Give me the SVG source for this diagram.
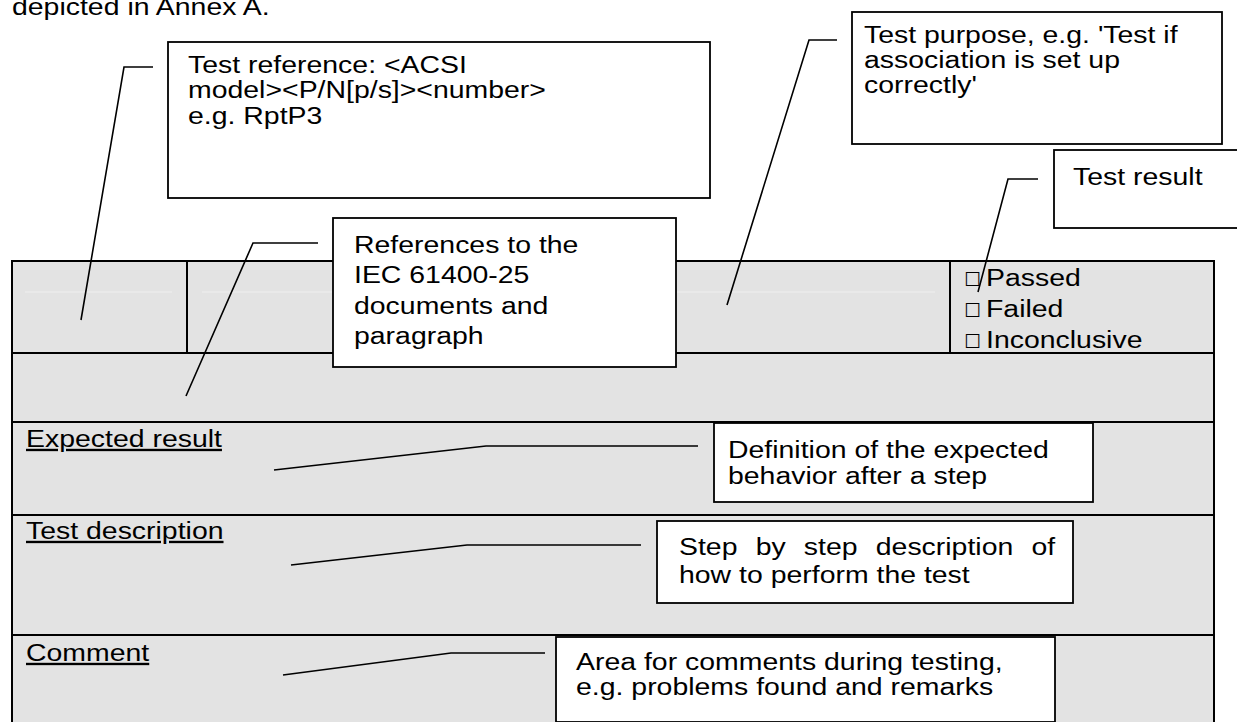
<svg xmlns="http://www.w3.org/2000/svg" width="1237" height="722" viewBox="0 0 1237 722">
  <style>
    .t { font-family: "Liberation Sans", Arial, sans-serif; font-size: 23.5px; fill: #000; }
    .u { text-decoration: underline; }
    .box { fill: #fff; stroke: #000; stroke-width: 1.8; }
    .grid { fill: none; stroke: #000; stroke-width: 2; }
    .lead { fill: none; stroke: #000; stroke-width: 1.6; }
    .faint { stroke: #efefef; stroke-width: 1.2; }
    .chk { font-family: "DejaVu Sans", sans-serif; font-size: 19px; fill: #000; }
  </style>

  <rect width="1237" height="722" fill="#fff"/>

  <!-- running text above the figure -->
  <text class="t" transform="translate(12 15) scale(1.21 1)">depicted in Annex A.</text>

  <!-- test case form -->
  <g id="form">
    <rect x="12" y="261" width="1202" height="470" fill="#e3e3e3"/>
    <line class="faint" x1="25" y1="292" x2="172" y2="292"/>
    <line class="faint" x1="202" y1="292" x2="935" y2="292"/>
    <rect class="grid" x="12" y="261" width="1202" height="470"/>
    <line class="grid" x1="187" y1="261" x2="187" y2="353"/>
    <line class="grid" x1="950" y1="261" x2="950" y2="353"/>
    <line class="grid" x1="12" y1="353" x2="1214" y2="353"/>
    <line class="grid" x1="12" y1="422" x2="1214" y2="422"/>
    <line class="grid" x1="12" y1="515" x2="1214" y2="515"/>
    <line class="grid" x1="12" y1="635" x2="1214" y2="635"/>

    <g id="result-options">
      <text class="chk" x="964" y="286">☐</text>
      <text class="t" transform="translate(986 286) scale(1.21 1)">Passed</text>
      <text class="chk" x="964" y="317">☐</text>
      <text class="t" transform="translate(986 317) scale(1.21 1)">Failed</text>
      <text class="chk" x="964" y="348">☐</text>
      <text class="t" transform="translate(986 348) scale(1.21 1)">Inconclusive</text>
    </g>

    <text class="t u" transform="translate(26 447) scale(1.21 1)">Expected result</text>
    <text class="t u" transform="translate(26 539) scale(1.21 1)">Test description</text>
    <text class="t u" transform="translate(26 661) scale(1.21 1)">Comment</text>
  </g>

  <!-- callout leaders -->
  <g id="connectors">
    <polyline class="lead" points="153,67 124,67 81,320"/>
    <polyline class="lead" points="837,40 809,40 727,305"/>
    <polyline class="lead" points="1038,179 1008,179 978,292"/>
    <polyline class="lead" points="318,243 253,243 186,396"/>
    <polyline class="lead" points="274,470 486,446 698,446"/>
    <polyline class="lead" points="291,565 467,545 641,545"/>
    <polyline class="lead" points="283,675 451,653 545,653"/>
  </g>

  <g id="test-reference">
    <rect class="box" x="168" y="42" width="542" height="156"/>
    <text class="t" transform="translate(188 73) scale(1.21 1)">
      <tspan x="0" y="0">Test reference: &lt;ACSI</tspan>
      <tspan x="0" y="25.5">model&gt;&lt;P/N[p/s]&gt;&lt;number&gt;</tspan>
      <tspan x="0" y="51">e.g. RptP3</tspan>
    </text>
  </g>

  <g id="test-purpose">
    <rect class="box" x="852" y="12" width="370" height="132"/>
    <text class="t" transform="translate(864 43) scale(1.21 1)">
      <tspan x="0" y="0">Test purpose, e.g. 'Test if</tspan>
      <tspan x="0" y="25">association is set up</tspan>
      <tspan x="0" y="50">correctly'</tspan>
    </text>
  </g>

  <g id="test-result">
    <rect class="box" x="1054" y="150" width="190" height="78"/>
    <text class="t" transform="translate(1073 185) scale(1.21 1)">Test result</text>
  </g>

  <g id="references">
    <rect class="box" x="333" y="218" width="343" height="149"/>
    <text class="t" transform="translate(354 253) scale(1.21 1)">
      <tspan x="0" y="0">References to the</tspan>
      <tspan x="0" y="30.5">IEC 61400-25</tspan>
      <tspan x="0" y="61">documents and</tspan>
      <tspan x="0" y="91.5">paragraph</tspan>
    </text>
  </g>

  <g id="expected-definition">
    <rect class="box" x="714" y="423" width="379" height="79"/>
    <text class="t" transform="translate(728 458) scale(1.21 1)">
      <tspan x="0" y="0">Definition of the expected</tspan>
      <tspan x="0" y="26">behavior after a step</tspan>
    </text>
  </g>

  <g id="step-description">
    <rect class="box" x="657" y="521" width="416" height="82"/>
    <text class="t" transform="translate(679 555) scale(1.21 1)">
      <tspan x="0" y="0" word-spacing="8.5">Step by step description of</tspan>
      <tspan x="0" y="28">how to perform the test</tspan>
    </text>
  </g>

  <g id="comment-area">
    <rect class="box" x="556" y="637" width="499" height="85"/>
    <text class="t" transform="translate(576 670) scale(1.21 1)">
      <tspan x="0" y="0">Area for comments during testing,</tspan>
      <tspan x="0" y="25">e.g. problems found and remarks</tspan>
    </text>
  </g>
</svg>
